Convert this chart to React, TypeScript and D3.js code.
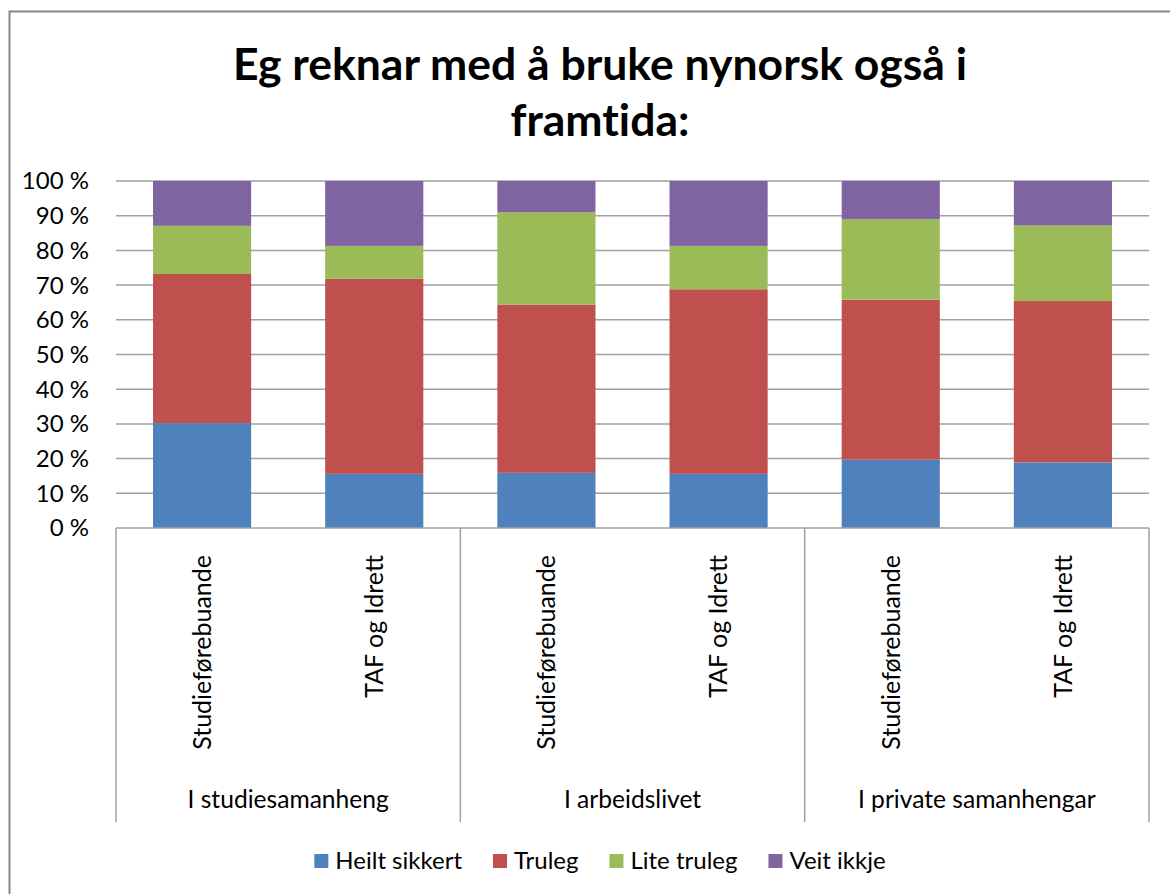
import React, { useEffect, useRef } from 'react';
import * as d3 from 'd3';

// Groups and sub-categories on the x axis
const groups = ['I studiesamanheng', 'I arbeidslivet', 'I private samanhengar'];
const subCategories = ['Studieførebuande', 'TAF og Idrett'];

// Series values (%), one per bar, in bar order
const seriesNames = ['Heilt sikkert', 'Truleg', 'Lite truleg', 'Veit ikkje'];
const heiltSikkert = [30.2, 15.6, 15.9, 15.6, 19.7, 18.9];
const truleg = [43.0, 56.2, 48.5, 53.2, 46.1, 46.5];
const liteTruleg = [13.9, 9.5, 26.6, 12.5, 23.2, 21.8];
const veitIkkje = [12.9, 18.7, 9.0, 18.7, 11.0, 12.8];

const yTicks = [0, 10, 20, 30, 40, 50, 60, 70, 80, 90, 100];
const titleLines = ['Eg reknar med å bruke nynorsk også i', 'framtida:'];

const colors = ['#4F81BD', '#C0504D', '#9BBB59', '#8064A2'];

export default function App() {
  const ref = useRef<SVGSVGElement>(null);

  useEffect(() => {
    if (!ref.current) return;
    const svg = d3.select(ref.current);
    svg.selectAll('*').remove();

    const W = 1170;
    const H = 894;
    const font = 'Lato, "Open Sans", sans-serif';
    const plot = { left: 116, right: 1149, top: 181, bottom: 528 };
    const axisBottom = 822;
    const cx = 600;

    // frame
    svg.append('rect')
      .attr('x', 9.5).attr('y', 11.5)
      .attr('width', W + 20).attr('height', H + 20)
      .attr('fill', '#fff').attr('stroke', '#888').attr('stroke-width', 2);

    // title
    svg.append('g').selectAll('text')
      .data(titleLines)
      .enter().append('text')
        .attr('x', cx)
        .attr('y', (_, i) => 80 + i * 56)
        .attr('text-anchor', 'middle')
        .attr('font-family', font)
        .attr('font-weight', 'bold')
        .attr('font-size', '44.5px')
        .style('font-variant-ligatures', 'none')
        .style('font-feature-settings', '"liga" 0')
        .attr('fill', '#000')
        .text(d => d);

    const bars = groups.flatMap(g => subCategories.map(s => ({ group: g, sub: s })));
    const rows = bars.map((b, i) => ({
      key: `${b.group}|${b.sub}`,
      'Heilt sikkert': heiltSikkert[i],
      'Truleg': truleg[i],
      'Lite truleg': liteTruleg[i],
      'Veit ikkje': veitIkkje[i],
    }));

    const x = d3.scaleBand<string>()
      .domain(rows.map(r => r.key))
      .range([plot.left, plot.right])
      .paddingInner(0.43)
      .paddingOuter(0.215);

    const xGroup = d3.scaleBand<string>()
      .domain(groups)
      .range([plot.left, plot.right]);

    const y = d3.scaleLinear()
      .domain([0, 100])
      .range([plot.bottom, plot.top]);

    // gridlines
    svg.append('g').selectAll('line')
      .data(yTicks.filter(t => t > 0))
      .enter().append('line')
        .attr('x1', plot.left).attr('x2', plot.right)
        .attr('y1', d => y(d)).attr('y2', d => y(d))
        .attr('stroke', '#A0A0A0').attr('stroke-width', 1.5);

    // y tick labels
    svg.append('g').selectAll('text')
      .data(yTicks)
      .enter().append('text')
        .attr('x', 89)
        .attr('y', d => y(d))
        .attr('dy', '0.35em')
        .attr('text-anchor', 'end')
        .attr('font-family', font)
        .attr('font-size', '24px')
        .attr('fill', '#000')
        .text(d => `${d} %`);

    // stacked bars
    const stack = d3.stack<any>().keys(seriesNames)(rows);
    svg.append('g').selectAll('g')
      .data(stack)
      .enter().append('g')
        .attr('fill', (_, i) => colors[i])
      .selectAll('rect')
      .data(d => d)
      .enter().append('rect')
        .attr('x', d => x(d.data.key)!)
        .attr('width', x.bandwidth())
        .attr('y', d => y(d[1]))
        .attr('height', d => y(d[0]) - y(d[1]));

    // category axis
    const ax = svg.append('g').attr('stroke', '#A0A0A0').attr('stroke-width', 1.5);
    ax.append('line')
      .attr('x1', plot.left).attr('x2', plot.right)
      .attr('y1', plot.bottom).attr('y2', plot.bottom);
    ax.selectAll('line.sep')
      .data([...groups.map(g => xGroup(g)!), plot.right])
      .enter().append('line')
        .attr('class', 'sep')
        .attr('x1', d => d).attr('x2', d => d)
        .attr('y1', plot.bottom).attr('y2', axisBottom);

    // sub-category labels (rotated)
    svg.append('g').selectAll('text')
      .data(bars.map((b, i) => ({ ...b, key: rows[i].key })))
      .enter().append('text')
        .attr('transform', d => `translate(${x(d.key)! + x.bandwidth() / 2},555) rotate(-90)`)
        .attr('dy', '0.35em')
        .attr('text-anchor', 'end')
        .attr('font-family', font)
        .attr('font-size', '25px')
        .attr('fill', '#000')
        .text(d => d.sub);

    // group labels
    svg.append('g').selectAll('text')
      .data(groups)
      .enter().append('text')
        .attr('x', d => xGroup(d)! + xGroup.bandwidth() / 2)
        .attr('y', 808)
        .attr('text-anchor', 'middle')
        .attr('font-family', font)
        .attr('font-size', '24.6px')
        .attr('fill', '#000')
        .text(d => d);

    // legend
    const legend = svg.append('g');
    const items = legend.selectAll('g')
      .data(seriesNames)
      .enter().append('g');
    items.append('rect')
      .attr('width', 14).attr('height', 14)
      .attr('y', 854)
      .attr('fill', (_, i) => colors[i]);
    items.append('text')
      .attr('x', 21)
      .attr('y', 869)
      .attr('font-family', font)
      .attr('font-size', '24px')
      .attr('fill', '#000')
      .text(d => d);
    let offset = 0;
    const offsets: number[] = [];
    items.each(function () {
      offsets.push(offset);
      const t = (this as SVGGElement).querySelector('text') as SVGTextElement;
      offset += 21 + t.getComputedTextLength() + 31;
    });
    const total = offset - 31;
    items.attr('transform', (_, i) => `translate(${cx - total / 2 + offsets[i]},0)`);
  }, []);

  return (
    <svg
      ref={ref}
      width={1170}
      height={894}
      style={{ position: 'absolute', left: 0, top: 0, background: '#fff' }}
    />
  );
}
